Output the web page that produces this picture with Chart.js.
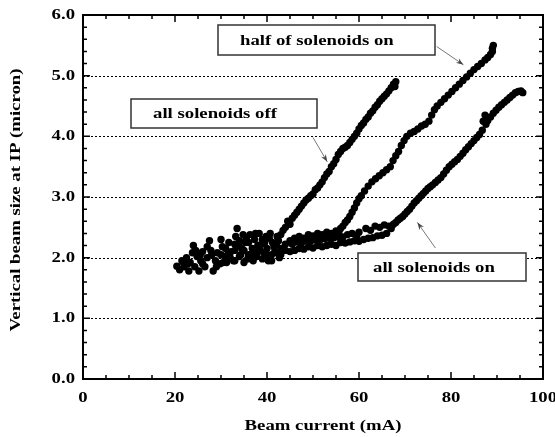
<!DOCTYPE html>
<html>
<head>
<meta charset="utf-8">
<script src="https://cdn.jsdelivr.net/npm/chart.js@4"></script>
<style>
  html, body { margin: 0; padding: 0; background: #fff; }
  #wrap { width: 555px; height: 437px; }
</style>
</head>
<body>
<div id="wrap"><canvas id="beamChart" width="555" height="437"></canvas></div>
<script>
// values: beam current (mA) / vertical beam size (micron)
const offX = [20.4,21.0,21.5,21.8,22.0,22.5,22.8,23.0,23.3,23.8,24.0,24.3,24.5,24.8,25.2,25.5,25.6,26.0,26.0,26.5,27.0,27.0,27.5,27.8,28.0,28.3,28.8,29.0,29.2,29.8,30.0,30.3,30.5,30.8,31.2,31.5,31.7,32.2,32.7,33.0,33.2,33.5,33.8,34.3,34.5,34.8,35.3,35.5,35.8,36.3,36.5,36.8,37.3,37.5,37.8,38.3,38.5,38.8,39.3,39.5,39.8,40.3,40.5,40.7,41.2,41.5,41.7,42.2,42.5,42.7,43.0,
  43.5,44.0,44.5,45.0,45.5,46.0,46.5,47.0,47.5,48.0,48.5,49.0,49.5,50.0,50.5,51.0,51.5,52.0,52.5,53.0,53.5,54.0,54.5,55.0,55.5,56.0,56.5,57.0,57.5,58.0,58.5,59.0,59.5,60.0,60.5,61.0,61.5,62.0,62.5,63.0,63.5,64.0,64.5,65.0,65.5,66.0,66.5,67.0,67.5,68.0,67.8];
const offY = [1.86,1.80,1.95,1.92,1.85,2.00,1.90,1.78,1.92,2.08,2.20,1.85,2.12,2.02,1.78,2.05,1.95,2.10,1.90,1.85,2.00,2.18,2.28,2.12,2.05,1.78,1.95,1.85,2.08,1.90,2.30,2.18,1.92,2.02,1.92,2.05,2.25,2.10,1.95,2.22,2.35,2.48,2.20,2.05,2.15,2.38,2.25,2.32,1.98,2.38,2.05,2.15,2.30,2.40,2.02,2.40,2.12,2.22,2.08,2.25,2.35,1.95,2.32,2.40,2.25,2.18,2.10,2.35,2.28,2.00,2.38,
  2.45,2.50,2.60,2.55,2.65,2.70,2.75,2.80,2.85,2.90,2.95,2.98,3.02,3.05,3.12,3.15,3.20,3.25,3.32,3.38,3.42,3.50,3.55,3.62,3.70,3.75,3.80,3.82,3.85,3.90,3.95,4.00,4.05,4.12,4.18,4.22,4.28,4.32,4.38,4.42,4.48,4.52,4.58,4.62,4.66,4.70,4.75,4.80,4.86,4.90,4.82];

const halfX = [30.0,31.0,32.0,33.0,34.0,35.0,36.0,37.0,38.0,39.0,40.0,41.0,42.0,43.0,44.0,45.0,46.0,47.0,48.0,49.0,50.0,51.0,52.0,53.0,54.0,55.0,55.6,
  56.0,56.5,57.0,57.5,58.0,58.5,59.0,59.5,60.0,60.5,61.2,62.0,62.8,63.6,64.4,65.2,66.0,66.8,67.4,68.0,68.6,69.2,69.8,70.4,71.2,72.0,72.8,73.6,74.4,75.2,75.8,76.4,77.0,77.8,78.6,79.4,80.2,81.0,81.8,82.6,83.4,84.2,85.0,85.8,86.6,87.4,88.0,88.6,89.0,89.2,89.0];
const halfY = [2.05,2.15,2.00,2.12,2.28,2.12,2.25,2.08,2.20,2.30,2.15,2.05,2.22,2.15,2.22,2.28,2.32,2.35,2.32,2.38,2.36,2.40,2.38,2.42,2.40,2.44,2.42,
  2.48,2.52,2.58,2.62,2.68,2.75,2.82,2.90,2.97,3.02,3.10,3.18,3.25,3.30,3.35,3.40,3.45,3.50,3.60,3.68,3.75,3.85,3.93,4.00,4.05,4.08,4.12,4.17,4.20,4.25,4.35,4.44,4.50,4.56,4.62,4.68,4.74,4.80,4.86,4.92,4.98,5.04,5.10,5.15,5.20,5.26,5.30,5.35,5.40,5.50,5.45];

const onX = [33.0,34.0,35.0,36.0,37.0,38.0,39.0,40.0,41.0,42.0,43.0,44.0,45.0,
  46.0,47.0,48.0,49.0,50.0,51.0,52.0,53.0,54.0,55.0,56.0,57.0,58.0,59.0,60.0,61.0,62.0,63.0,64.0,65.0,66.0,
  45.5,46.5,47.5,48.5,49.5,50.5,51.5,52.5,53.5,54.5,55.5,
  56.5,57.5,58.5,59.5,60.0,61.5,62.5,63.5,64.5,65.5,66.5,
  67.0,67.5,68.0,68.5,69.0,69.5,70.0,70.5,71.0,71.5,72.0,72.5,73.0,73.5,74.0,74.5,75.0,75.5,76.0,76.6,77.2,77.8,78.4,79.0,79.6,80.2,80.8,81.4,82.0,82.6,83.2,83.8,84.4,85.0,85.6,86.2,86.8,87.0,87.4,87.6,88.0,88.6,89.2,89.8,90.4,91.0,91.6,92.2,92.8,93.4,94.0,94.6,95.2,95.6];
const onY = [1.95,2.02,1.92,2.05,1.95,2.10,1.98,2.05,1.95,2.08,2.05,2.12,2.10,
  2.12,2.15,2.14,2.18,2.16,2.20,2.18,2.20,2.22,2.20,2.25,2.24,2.26,2.28,2.27,2.30,2.32,2.33,2.36,2.37,2.40,
  2.22,2.26,2.24,2.28,2.27,2.30,2.29,2.31,2.32,2.33,2.34,
  2.34,2.38,2.40,2.36,2.42,2.48,2.45,2.52,2.50,2.54,2.52,
  2.48,2.55,2.58,2.62,2.65,2.68,2.72,2.76,2.80,2.85,2.90,2.94,2.98,3.02,3.06,3.10,3.14,3.17,3.20,3.24,3.28,3.32,3.38,3.44,3.50,3.54,3.58,3.62,3.67,3.72,3.78,3.83,3.88,3.93,3.98,4.03,4.10,4.25,4.35,4.20,4.26,4.32,4.38,4.43,4.48,4.52,4.56,4.60,4.64,4.68,4.72,4.74,4.75,4.72];

const xTicks = [0, 20, 40, 60, 80, 100];
const yTicks = [0, 1, 2, 3, 4, 5, 6];

const pts = (xs, ys) => xs.map((x, i) => ({ x: x, y: ys[i] }));

// the scan is a bit wide, so the serif text gets stretched sideways
const labelFont = "bold 15px 'Liberation Serif', 'Times New Roman', serif";
const stretch = 1.25;

function wideText(ctx, text, x, y, align, vertical) {
  ctx.save();
  ctx.translate(x, y);
  if (vertical) ctx.rotate(-Math.PI / 2);
  ctx.scale(stretch, 1);
  ctx.font = labelFont;
  ctx.fillStyle = '#000';
  ctx.textAlign = align;
  ctx.textBaseline = 'middle';
  ctx.fillText(text, 0, 0);
  ctx.restore();
}

const decorPlugin = {
  id: 'decor',
  beforeDatasetsDraw(chart) {
    const { ctx, chartArea: a, scales: { y } } = chart;
    ctx.save();
    ctx.strokeStyle = '#000';
    ctx.lineWidth = 1;
    ctx.setLineDash([2, 2]);
    for (let v = 1; v <= 5; v++) {
      const py = Math.round(y.getPixelForValue(v)) + 0.5;
      ctx.beginPath();
      ctx.moveTo(a.left, py);
      ctx.lineTo(a.right, py);
      ctx.stroke();
    }
    ctx.restore();
  },
  afterDatasetsDraw(chart) {
    const { ctx, chartArea: a, scales: { x, y } } = chart;
    ctx.save();
    ctx.strokeStyle = '#000';
    ctx.lineWidth = 2;
    ctx.strokeRect(a.left, a.top, a.right - a.left, a.bottom - a.top);

    // inward ticks on all four sides
    ctx.lineWidth = 1.5;
    ctx.beginPath();
    for (let v = 0; v <= 100; v += 5) {
      const px = x.getPixelForValue(v);
      const len = v % 20 === 0 ? 7 : 4;
      ctx.moveTo(px, a.bottom); ctx.lineTo(px, a.bottom - len);
      ctx.moveTo(px, a.top); ctx.lineTo(px, a.top + len);
    }
    for (let i = 0; i <= 30; i++) {
      const py = y.getPixelForValue(i * 0.2);
      const len = i % 5 === 0 ? 7 : 4;
      ctx.moveTo(a.left, py); ctx.lineTo(a.left + len, py);
      ctx.moveTo(a.right, py); ctx.lineTo(a.right - len, py);
    }
    ctx.stroke();

    // tick labels and axis titles
    yTicks.forEach(v => wideText(ctx, v.toFixed(1), a.left - 8, y.getPixelForValue(v), 'right'));
    xTicks.forEach(v => wideText(ctx, String(v), x.getPixelForValue(v), a.bottom + 19, 'center'));
    wideText(ctx, 'Beam current (mA)', (a.left + a.right) / 2 + 10, a.bottom + 47, 'center');
    wideText(ctx, 'Vertical beam size at IP (micron)', 16, (a.top + a.bottom) / 2 + 3, 'center', true);

    const boxes = [
      { text: 'half of solenoids on', x0: 29.4, x1: 76.6, y0: 5.84, y1: 5.34, pad: 22 },
      { text: 'all solenoids off', x0: 10.4, x1: 50.9, y0: 4.62, y1: 4.14, pad: 22 },
      { text: 'all solenoids on', x0: 59.8, x1: 96.4, y0: 2.08, y1: 1.62, pad: 15 }
    ];
    boxes.forEach(b => {
      const l = Math.round(x.getPixelForValue(b.x0)), r = Math.round(x.getPixelForValue(b.x1));
      const t = Math.round(y.getPixelForValue(b.y0)), btm = Math.round(y.getPixelForValue(b.y1));
      ctx.fillStyle = '#fff';
      ctx.fillRect(l, t, r - l, btm - t);
      ctx.strokeStyle = '#333';
      ctx.lineWidth = 1.5;
      ctx.strokeRect(l, t, r - l, btm - t);
      wideText(ctx, b.text, l + b.pad, (t + btm) / 2 + 1, 'left');
    });

    const arrows = [
      { fx: 76.9, fy: 5.48, tx: 82.7, ty: 5.18 },
      { fx: 50.0, fy: 3.98, tx: 53.1, ty: 3.58 },
      { fx: 76.6, fy: 2.16, tx: 72.7, ty: 2.58 }
    ];
    ctx.strokeStyle = '#777';
    ctx.fillStyle = '#444';
    ctx.lineWidth = 1;
    arrows.forEach(ar => {
      const x1 = x.getPixelForValue(ar.fx), y1 = y.getPixelForValue(ar.fy);
      const x2 = x.getPixelForValue(ar.tx), y2 = y.getPixelForValue(ar.ty);
      const ang = Math.atan2(y2 - y1, x2 - x1);
      ctx.beginPath();
      ctx.moveTo(x1, y1); ctx.lineTo(x2, y2);
      ctx.stroke();
      ctx.beginPath();
      ctx.moveTo(x2, y2);
      ctx.lineTo(x2 - 8 * Math.cos(ang - 0.35), y2 - 8 * Math.sin(ang - 0.35));
      ctx.lineTo(x2 - 5 * Math.cos(ang), y2 - 5 * Math.sin(ang));
      ctx.lineTo(x2 - 8 * Math.cos(ang + 0.35), y2 - 8 * Math.sin(ang + 0.35));
      ctx.closePath();
      ctx.fill();
    });
    ctx.restore();
  }
};

const dotStyle = { backgroundColor: '#000', borderWidth: 0, pointRadius: 3.7, pointHoverRadius: 3.7 };

new Chart(document.getElementById('beamChart'), {
  type: 'scatter',
  data: {
    datasets: [
      Object.assign({ label: 'all solenoids off', data: pts(offX, offY) }, dotStyle),
      Object.assign({ label: 'half of solenoids on', data: pts(halfX, halfY) }, dotStyle),
      Object.assign({ label: 'all solenoids on', data: pts(onX, onY) }, dotStyle)
    ]
  },
  options: {
    responsive: false,
    animation: false,
    layout: { padding: { top: 15, right: 12, left: 0, bottom: 0 } },
    plugins: { legend: { display: false }, tooltip: { enabled: false } },
    scales: {
      x: {
        type: 'linear',
        min: 0, max: 100,
        afterBuildTicks: s => { s.ticks = xTicks.map(v => ({ value: v })); },
        afterFit: s => { s.height = 58; },
        grid: { display: false, drawTicks: false },
        border: { display: false },
        ticks: { display: false }
      },
      y: {
        type: 'linear',
        min: 0, max: 6,
        afterBuildTicks: s => { s.ticks = yTicks.map(v => ({ value: v })); },
        afterFit: s => { s.width = 83; },
        grid: { display: false, drawTicks: false },
        border: { display: false },
        ticks: { display: false }
      }
    }
  },
  plugins: [decorPlugin]
});
</script>
</body>
</html>
